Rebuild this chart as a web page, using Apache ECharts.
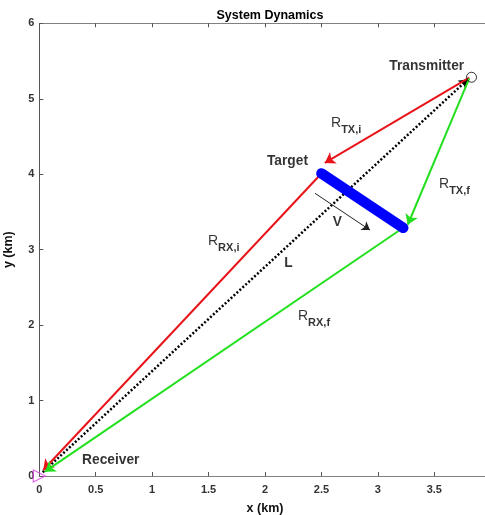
<!DOCTYPE html>
<html>
<head>
<meta charset="utf-8">
<script src="https://cdn.jsdelivr.net/npm/echarts@6/dist/echarts.min.js"></script>
<style>
  html, body { margin: 0; padding: 0; background: #fff; }
  #chart { width: 485px; height: 515px; }
</style>
</head>
<body>
<div id="chart"></div>
<script>
// Geometry of the bistatic scenario (km)
const transmitter = [3.83, 5.285];
const receiver = [0, 0];
const targetStart = [2.50, 4.01];
const targetEnd = [3.225, 3.29];

// Range vectors: [from, to]
const redPaths = [
  [[3.81, 5.28], [2.53, 4.15]],   // R_TX,i
  [[2.50, 4.01], [0.035, 0.08]]   // R_RX,i
];
const greenPaths = [
  [[3.81, 5.27], [3.265, 3.33]],  // R_TX,f
  [[3.225, 3.29], [0.05, 0.057]]  // R_RX,f
];
const baselinePath = [[0.03, 0.05], [3.80, 5.26]]; // L
const velocityPath = [[2.443, 3.747], [2.93, 3.26]]; // V

// Axis ticks
const xTicks = [0, 0.5, 1, 1.5, 2, 2.5, 3, 3.5, 4];
const yTicks = [0, 1, 2, 3, 4, 5, 6];

// Plain annotations: [text, x, y]
const plainLabels = [
  ['Transmitter', 3.433, 5.434],
  ['Target', 2.199, 4.175],
  ['Receiver', 0.633, 0.215],
  ['L', 2.208, 2.823],
  ['V', 2.642, 3.36]
];
// Subscripted range labels: [main, subscript, x, y]
const rangeLabels = [
  ['R', 'TX,i', 2.585, 4.771],
  ['R', 'TX,f', 3.542, 3.963],
  ['R', 'RX,i', 1.495, 3.207],
  ['R', 'RX,f', 2.292, 2.207]
];

const FONT = '"Liberation Sans", Arial, Helvetica, sans-serif';
const chart = echarts.init(document.getElementById('chart'), null, { renderer: 'canvas' });

const axisLineGray = { show: true, onZero: false, lineStyle: { color: '#808080', width: 1 } };
const tickIn = { show: true, inside: true, length: 4, lineStyle: { color: '#555' } };

function arrowSeries(paths, color, width, size) {
  return {
    type: 'lines',
    coordinateSystem: 'cartesian2d',
    polyline: false,
    silent: true,
    symbol: ['none', 'arrow'],
    symbolSize: size,
    lineStyle: { color: color, width: width, opacity: 1, curveness: 0 },
    data: paths.map(p => ({ coords: p })),
    z: 3
  };
}

const option = {
  animation: false,
  backgroundColor: '#fff',
  textStyle: { fontFamily: FONT },
  title: {
    text: 'System Dynamics',
    left: 265,
    top: 4,
    textAlign: 'center',
    textStyle: { fontFamily: FONT, fontSize: 12.5, fontWeight: 'bold', color: '#000' }
  },
  grid: { left: 39.3, top: 23.3, bottom: 39, right: -5.7, containLabel: false, outerBoundsMode: 'none' },
  xAxis: [{
    type: 'value', min: 0, max: 4, interval: 0.5,
    name: 'x (km)', nameLocation: 'middle', nameGap: 26,
    nameTextStyle: { fontFamily: FONT, fontSize: 12.5, fontWeight: 'bold', color: '#111' },
    axisLine: axisLineGray, axisTick: tickIn, splitLine: { show: false },
    axisLabel: { margin: 8, fontSize: 11, fontWeight: 'bold', color: '#333', fontFamily: FONT,
                 formatter: v => xTicks.includes(v) ? String(v) : '' }
  }, {
    type: 'value', min: 0, max: 4, interval: 0.5, position: 'top',
    axisLine: axisLineGray, axisTick: tickIn, axisLabel: { show: false }, splitLine: { show: false }
  }],
  yAxis: [{
    type: 'value', min: 0, max: 6, interval: 1,
    name: 'y (km)', nameLocation: 'middle', nameGap: 24, nameRotate: 90,
    nameTextStyle: { fontFamily: FONT, fontSize: 12.5, fontWeight: 'bold', color: '#111' },
    axisLine: { show: true, onZero: false, lineStyle: { color: '#555', width: 1 } }, axisTick: tickIn, splitLine: { show: false },
    axisLabel: { margin: 5, fontSize: 11, fontWeight: 'bold', color: '#333', fontFamily: FONT,
                 formatter: v => yTicks.includes(v) ? String(v) : '' }
  }, {
    type: 'value', min: 0, max: 6, interval: 1, position: 'right',
    axisLine: axisLineGray, axisTick: tickIn, axisLabel: { show: false }, splitLine: { show: false }
  }],
  series: [
    // Baseline L (dotted)
    {
      type: 'lines', coordinateSystem: 'cartesian2d', silent: true,
      symbol: ['none', 'arrow'], symbolSize: 9,
      lineStyle: { color: '#000', width: 2.5, type: [2, 2], opacity: 1 },
      data: [{ coords: baselinePath }], z: 2
    },
    arrowSeries(redPaths, '#e8141a', 2, 10),
    arrowSeries(greenPaths, '#22e01e', 2, 10),
    arrowSeries([velocityPath], '#222', 1, 8),
    // Target track
    {
      type: 'line', silent: true, symbol: 'none',
      lineStyle: { color: '#0000ff', width: 10.5, cap: 'round' },
      data: [targetStart, targetEnd], z: 4
    },
    // Transmitter and receiver markers
    {
      type: 'scatter', silent: true, symbol: 'circle', symbolSize: 10,
      itemStyle: { color: 'rgba(0,0,0,0)', borderColor: '#000', borderWidth: 1 },
      data: [transmitter], z: 5
    },
    {
      type: 'scatter', silent: true, symbol: 'triangle', symbolSize: 12, symbolRotate: -90,
      itemStyle: { color: 'rgba(0,0,0,0)', borderColor: '#e040e0', borderWidth: 1.2 },
      data: [receiver], z: 5
    },
    // Plain text annotations
    {
      type: 'scatter', silent: true, symbolSize: 0,
      data: plainLabels.map(l => ({ value: [l[1], l[2]], name: l[0] })),
      label: {
        show: true, position: 'inside', align: 'center', verticalAlign: 'middle',
        formatter: p => p.name,
        fontFamily: FONT, fontSize: 13.75, fontWeight: 'bold', color: '#000'
      },
      z: 6
    },
    // Range labels with subscripts
    {
      type: 'scatter', silent: true, symbolSize: 0,
      data: rangeLabels.map(l => ({ value: [l[2], l[3]], name: l[0] + '|' + l[1] })),
      label: {
        show: true, position: 'inside', align: 'left', verticalAlign: 'top',
        formatter: p => { const s = p.name.split('|'); return '{m|' + s[0] + '}{s|' + s[1] + '}'; },
        rich: {
          m: { fontFamily: FONT, fontSize: 14, color: '#000', lineHeight: 16, verticalAlign: 'top' },
          s: { fontFamily: FONT, fontSize: 11, fontWeight: 'bold', color: '#000', lineHeight: 11,
               padding: [8, 0, 0, 0], verticalAlign: 'top' }
        }
      },
      z: 6
    }
  ]
};

chart.setOption(option);
</script>
</body>
</html>
